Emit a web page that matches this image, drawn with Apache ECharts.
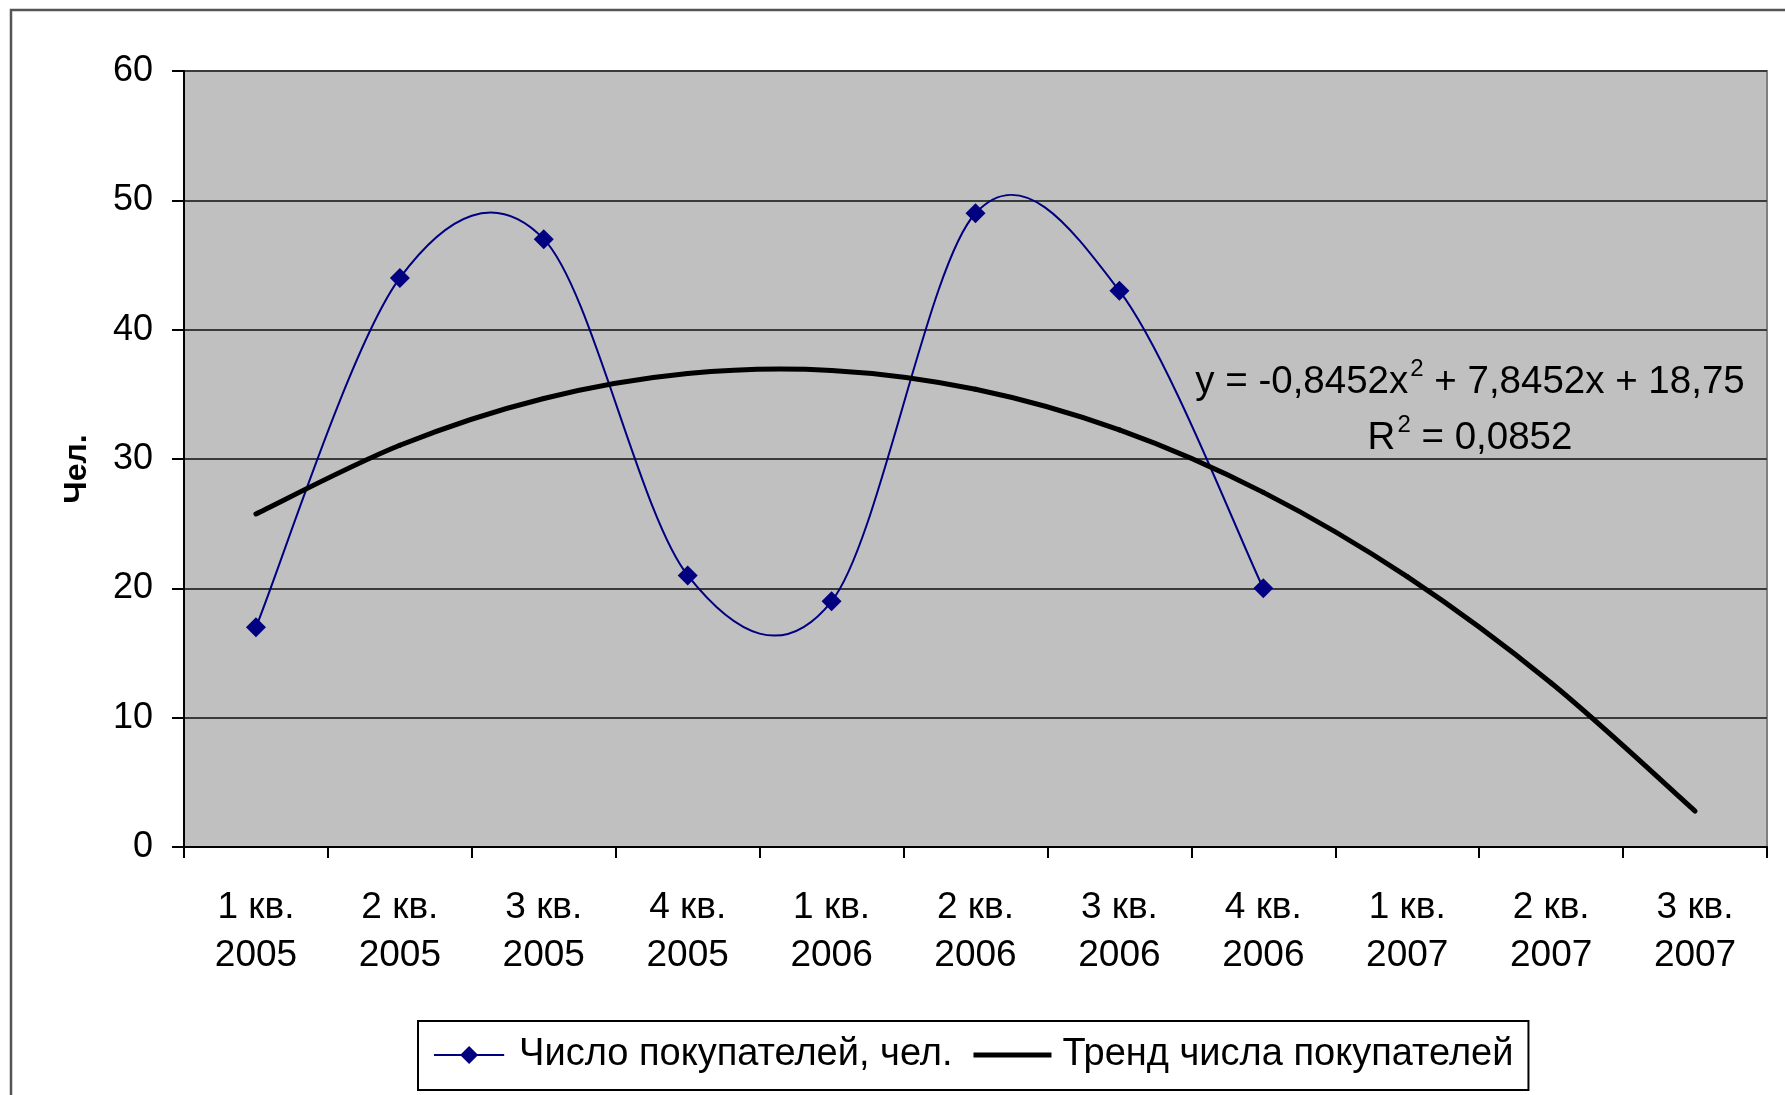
<!DOCTYPE html>
<html>
<head>
<meta charset="utf-8">
<script src="https://cdn.jsdelivr.net/npm/echarts@6/dist/echarts.min.js"></script>
<style>
  html, body { margin: 0; padding: 0; background: #ffffff; }
  #chart { width: 1785px; height: 1095px; }
</style>
</head>
<body>
<div id="chart"></div>
<script>
// Quarters on the category axis (two-line labels)
const quarters = [
  '1 кв.\n2005', '2 кв.\n2005', '3 кв.\n2005', '4 кв.\n2005',
  '1 кв.\n2006', '2 кв.\n2006', '3 кв.\n2006', '4 кв.\n2006',
  '1 кв.\n2007', '2 кв.\n2007', '3 кв.\n2007'
];

// Number of customers per quarter
const buyers = [17, 44, 47, 21, 19, 49, 43, 20];

// Polynomial trend y = -0,8452x² + 7,8452x + 18,75 at x = 1..11
const trend = [25.75, 31.06, 34.68, 36.61, 36.85, 35.39, 32.25, 27.42, 20.90, 12.68, 2.78];

// Value axis scale
const yMin = 0;
const yMax = 60;
const yStep = 10;

const seriesNames = ['Число покупателей, чел.', 'Тренд числа покупателей'];
const yAxisTitle = 'Чел.';
const equationText = 'y = -0,8452x{sup|2} + 7,8452x + 18,75\nR{sup|2} = 0,0852';

const FONT = '"Liberation Sans", Arial, sans-serif';
const NAVY = '#000080';

const chart = echarts.init(document.getElementById('chart'), null, { renderer: 'canvas' });

// Smooth curve through a series' points (Catmull-Rom segments), optional diamond markers
function curveRenderer(values, color, width, markerHalf) {
  return function (params, api) {
    const i = params.dataIndex;
    const n = values.length;
    const pt = k => api.coord([k, values[k]]);
    const p1 = pt(i);
    const children = [];
    if (i < n - 1) {
      const p0 = pt(Math.max(i - 1, 0));
      const p2 = pt(i + 1);
      const p3 = pt(Math.min(i + 2, n - 1));
      children.push({
        type: 'bezierCurve',
        shape: {
          x1: p1[0], y1: p1[1],
          x2: p2[0], y2: p2[1],
          cpx1: p1[0] + (p2[0] - p0[0]) / 6,
          cpy1: p1[1] + (p2[1] - p0[1]) / 6,
          cpx2: p2[0] - (p3[0] - p1[0]) / 6,
          cpy2: p2[1] - (p3[1] - p1[1]) / 6
        },
        style: { stroke: color, lineWidth: width, fill: null, lineCap: 'round', lineJoin: 'round' }
      });
    }
    if (markerHalf > 0) {
      const s = markerHalf;
      children.push({
        type: 'polygon',
        z2: 10,
        shape: { points: [[p1[0], p1[1] - s], [p1[0] + s, p1[1]], [p1[0], p1[1] + s], [p1[0] - s, p1[1]]] },
        style: { fill: color }
      });
    }
    return { type: 'group', children };
  };
}

const option = {
  animation: false,
  backgroundColor: '#ffffff',
  textStyle: { fontFamily: FONT },
  grid: {
    left: 184, top: 71, right: 18, bottom: 248,
    show: true,
    backgroundColor: '#c0c0c0',
    borderColor: '#808080',
    borderWidth: 2
  },
  xAxis: {
    type: 'category',
    data: quarters,
    boundaryGap: true,
    axisLine: { lineStyle: { color: '#000000', width: 2 } },
    axisTick: { show: true, length: 11, alignWithLabel: false, lineStyle: { color: '#000000', width: 2 } },
    axisLabel: {
      interval: 0,
      margin: 37,
      color: '#000000',
      fontSize: 37,
      lineHeight: 48,
      fontFamily: FONT
    },
    splitLine: { show: false }
  },
  yAxis: {
    type: 'value',
    min: yMin, max: yMax, interval: yStep,
    axisLine: { show: true, lineStyle: { color: '#000000', width: 2 } },
    axisTick: { show: true, length: 12, lineStyle: { color: '#000000', width: 2 } },
    axisLabel: { margin: 31, color: '#000000', fontSize: 36, fontFamily: FONT, padding: [4, 0, 0, 0] },
    splitLine: { show: true, lineStyle: { color: '#3a3a3a', width: 2 } }
  },
  legend: {
    left: 418,
    top: 1021,
    orient: 'horizontal',
    padding: [15, 15, 16, 16],
    itemGap: 21,
    itemWidth: 78,
    itemHeight: 18,
    symbolKeepAspect: true,
    borderColor: '#000000',
    borderWidth: 2,
    borderRadius: 0,
    backgroundColor: '#ffffff',
    textStyle: { fontSize: 38, color: '#000000', fontFamily: FONT, padding: [0, 0, 0, 6] },
    data: [
      { name: seriesNames[0], icon: 'path://M0,8h30v2h-30z M39,-1l10,10l-10,10l-10,-10z M48,8h30v2h-30z', symbolKeepAspect: true },
      { name: seriesNames[1], icon: 'path://M0,0h78v5h-78z', symbolKeepAspect: true }
    ]
  },
  graphic: [
    {
      type: 'rect',
      z: -10,
      silent: true,
      shape: { x: 11, y: 10, width: 1900, height: 1200 },
      style: { fill: null, stroke: '#555555', lineWidth: 2.5 }
    },
    {
      type: 'text',
      z: 20,
      x: 77,
      y: 469,
      rotation: Math.PI / 2,
      style: {
        text: yAxisTitle,
        align: 'center',
        verticalAlign: 'middle',
        fontSize: 32,
        fontWeight: 'bold',
        fontFamily: FONT,
        fill: '#000000'
      }
    },
    {
      type: 'text',
      z: 20,
      x: 1470,
      y: 354,
      style: {
        text: equationText,
        align: 'center',
        verticalAlign: 'top',
        fontSize: 38.5,
        lineHeight: 56,
        fontFamily: FONT,
        fill: '#000000',
        rich: {
          sup: { fontSize: 24, verticalAlign: 'top', lineHeight: 56, padding: [3, 0, 0, 2], fontFamily: FONT, fill: '#000000' }
        }
      }
    }
  ],
  series: [
    {
      name: seriesNames[0],
      type: 'custom',
      z: 2,
      clip: false,
      itemStyle: { color: NAVY },
      encode: { x: 0, y: 1 },
      data: buyers.map((v, i) => [i, v]),
      renderItem: curveRenderer(buyers, NAVY, 2, 10)
    },
    {
      name: seriesNames[1],
      type: 'custom',
      z: 3,
      clip: false,
      itemStyle: { color: '#000000' },
      encode: { x: 0, y: 1 },
      data: trend.map((v, i) => [i, v]),
      renderItem: curveRenderer(trend, '#000000', 5, 0)
    }
  ]
};

chart.setOption(option);
</script>
</body>
</html>
